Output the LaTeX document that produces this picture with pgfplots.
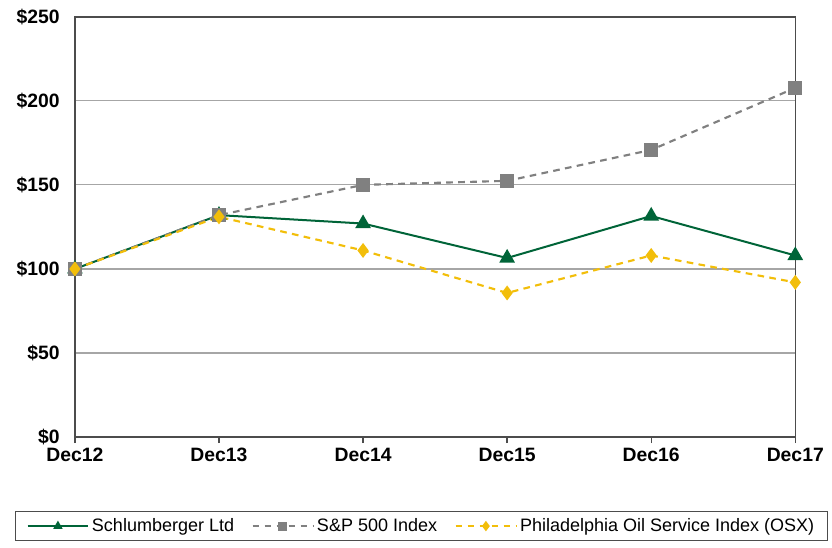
\documentclass[border=0pt]{standalone}
\usepackage{fontspec}
\setmainfont{Liberation Sans}
\usepackage{pgfplots}
\pgfplotsset{compat=1.18}
\definecolor{slb}{RGB}{0,100,56}
\definecolor{spx}{RGB}{128,128,128}
\definecolor{osx}{RGB}{242,190,10}
\begin{document}
\begin{tikzpicture}
\begin{axis}[
  scale only axis, width=540pt, height=315pt,
  xmin=0, xmax=5, ymin=0, ymax=250,
  clip=false,
  xtick={0,1,2,3,4,5},
  xticklabels={Dec12,Dec13,Dec14,Dec15,Dec16,Dec17},
  ytick={0,50,100,150,200,250},
  yticklabel={\$\pgfmathprintnumber{\tick}},
  /pgf/number format/assume math mode=true,
  xtick pos=bottom, ytick pos=left,
  ymajorgrids,
  grid style={black!35, line width=0.9pt},
  axis line style={draw=black!70, line width=1.1pt},
  tick label style={font=\fontsize{14.5}{16}\selectfont\bfseries},
  xtick align=outside,
  xtick style={draw=black!70, line width=1pt},
  major tick length=4.5pt,
  ytick style={draw=none},
  yticklabel style={xshift=-8pt},
  xticklabel style={yshift=0pt},
  legend columns=3,
  legend style={at={(axis description cs:0.4815,-0.212)}, anchor=center,
    draw=black!70, line width=0.8pt,
    font=\fontsize{13.5}{15}\selectfont, inner xsep=8pt, inner ysep=3pt,
    /tikz/every even column/.append style={column sep=11pt}},
  legend image code/.code={\draw[mark repeat=2,mark phase=2,#1,mark size=2.6pt] plot coordinates {(0cm,0cm) (0.8cm,0cm) (1.6cm,0cm)};},
]
\addplot[slb, line width=1.5pt, mark=triangle*, mark size=5.3pt, mark options={solid}]
  coordinates {(0,100) (1,132) (2,127) (3,106.5) (4,131.5) (5,108)};
\addlegendentry{Schlumberger Ltd}
\addplot[spx, line width=1.6pt, dash pattern=on 5pt off 4pt, mark=square*, mark size=4.3pt, mark options={solid}]
  coordinates {(0,100) (1,132) (2,150) (3,152.4) (4,170.8) (5,207.7)};
\addlegendentry{S\&P 500 Index}
\addplot[osx, line width=1.6pt, dash pattern=on 5pt off 4pt, mark=diamond*, mark size=4.3pt, mark options={solid}]
  coordinates {(0,100) (1,131) (2,111) (3,85.7) (4,108) (5,92)};
\addlegendentry{Philadelphia Oil Service Index (OSX)}
\coordinate (bl) at (rel axis cs:-0.104,-0.264);
\coordinate (tr) at (rel axis cs:1.051,1.040);
\end{axis}
\pgfresetboundingbox
\path (bl) rectangle (tr);
\end{tikzpicture}
\end{document}
